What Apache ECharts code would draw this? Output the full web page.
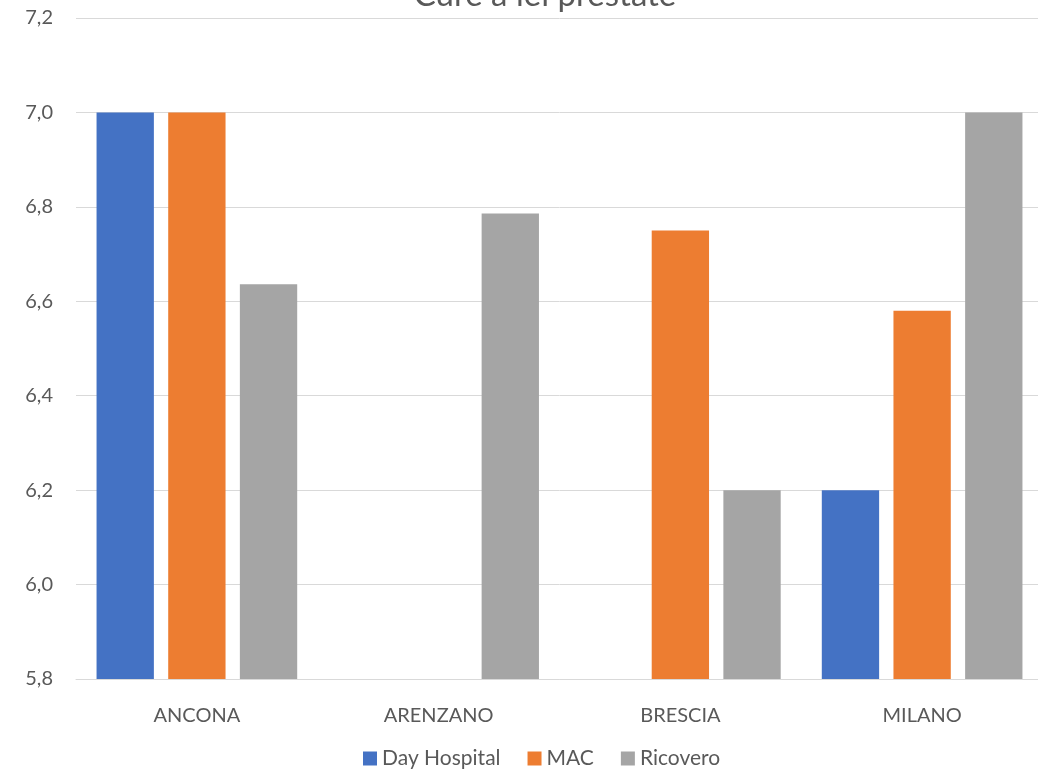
<!DOCTYPE html>
<html>
<head>
<meta charset="utf-8">
<script src="https://cdn.jsdelivr.net/npm/echarts@6/dist/echarts.min.js"></script>
<style>html,body{margin:0;padding:0;background:#fff;overflow:hidden}#c{width:1046px;height:776px}</style>
</head>
<body>
<div id="c"></div>
<script>
const titleText = 'Cure a lei prestate';
const categories = ['ANCONA', 'ARENZANO', 'BRESCIA', 'MILANO'];
const seriesNames = ['Day Hospital', 'MAC', 'Ricovero'];
const dayHospital = [7.0, null, null, 6.2];
const mac = [7.0, null, 6.75, 6.58];
const ricovero = [6.636, 6.786, 6.2, 7.0];
const colors = ['#4472C4', '#ED7D31', '#A5A5A5'];
const font = 'Lato, "Open Sans", sans-serif';

const chart = echarts.init(document.getElementById('c'));
const dataSets = [dayHospital, mac, ricovero];
chart.setOption({
  animation: false,
  title: {
    text: titleText, left: 540, textAlign: 'center', top: -26,
    textStyle: { fontFamily: font, fontSize: 33, fontWeight: 'normal', color: '#595959' }
  },
  legend: {
    bottom: 2, left: 358, itemWidth: 14, itemHeight: 14, itemGap: 27,
    icon: 'rect',
    textStyle: { fontFamily: font, fontSize: 21, color: '#595959' },
    data: seriesNames
  },
  grid: { left: 76, right: 3, top: 18, bottom: 97 },
  xAxis: {
    type: 'category', data: categories,
    axisLine: { lineStyle: { color: '#D9D9D9' } },
    axisTick: { show: false },
    axisLabel: { fontFamily: font, fontSize: 20, color: '#595959', margin: 27 }
  },
  yAxis: {
    type: 'value', min: 5.8, max: 7.2, interval: 0.2,
    axisLine: { show: false }, axisTick: { show: false },
    splitLine: { lineStyle: { color: '#D9D9D9' } },
    axisLabel: {
      fontFamily: font, fontSize: 20, color: '#595959', margin: 23,
      formatter: v => v.toFixed(1).replace('.', ',')
    }
  },
  series: seriesNames.map((n, i) => ({
    name: n, type: 'bar', data: dataSets[i],
    itemStyle: { color: colors[i] },
    barGap: '25%', barCategoryGap: '17%'
  }))
});
</script>
</body>
</html>
